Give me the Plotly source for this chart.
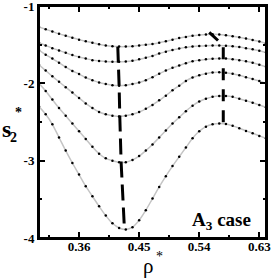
import plotly.graph_objects as go

# density values (rho*)
rho = [0.30, 0.31, 0.32, 0.33, 0.34, 0.35, 0.36, 0.37, 0.38, 0.39,
       0.40, 0.41, 0.42, 0.43, 0.44, 0.45, 0.46, 0.47, 0.48, 0.49,
       0.50, 0.51, 0.52, 0.53, 0.54, 0.55, 0.56, 0.57, 0.58, 0.59,
       0.60, 0.61, 0.62, 0.63, 0.64]

# s2* curves, top to bottom
s2_c1 = [-1.27, -1.30, -1.33, -1.36, -1.385, -1.41, -1.435, -1.455, -1.475, -1.495,
         -1.51, -1.52, -1.525, -1.525, -1.52, -1.51, -1.50, -1.49, -1.475, -1.455,
         -1.435, -1.415, -1.40, -1.385, -1.375, -1.368, -1.365, -1.368, -1.378, -1.39,
         -1.405, -1.42, -1.44, -1.46, -1.483]
s2_c2 = [-1.475, -1.51, -1.545, -1.575, -1.605, -1.635, -1.66, -1.68, -1.70, -1.71,
         -1.718, -1.722, -1.722, -1.718, -1.708, -1.69, -1.67, -1.645, -1.615, -1.59,
         -1.57, -1.55, -1.535, -1.525, -1.518, -1.513, -1.51, -1.51, -1.513, -1.52,
         -1.53, -1.545, -1.56, -1.58, -1.60]
s2_c3 = [-1.57, -1.63, -1.68, -1.735, -1.79, -1.84, -1.88, -1.925, -1.96, -1.99,
         -2.01, -2.025, -2.03, -2.025, -2.01, -1.99, -1.96, -1.92, -1.875, -1.835,
         -1.80, -1.77, -1.74, -1.715, -1.70, -1.69, -1.682, -1.678, -1.68, -1.69,
         -1.70, -1.715, -1.735, -1.76, -1.785]
s2_c4 = [-1.76, -1.835, -1.91, -1.98, -2.05, -2.12, -2.19, -2.26, -2.32, -2.37,
         -2.40, -2.42, -2.43, -2.42, -2.40, -2.37, -2.33, -2.28, -2.22, -2.16,
         -2.09, -2.03, -1.97, -1.925, -1.895, -1.875, -1.86, -1.858, -1.862, -1.875,
         -1.895, -1.92, -1.945, -1.97, -2.0]
s2_c5 = [-2.00, -2.10, -2.21, -2.32, -2.42, -2.52, -2.62, -2.72, -2.82, -2.91,
         -2.97, -3.00, -3.02, -3.02, -2.99, -2.94, -2.87, -2.79, -2.70, -2.61,
         -2.52, -2.44, -2.36, -2.29, -2.235, -2.20, -2.175, -2.165, -2.165, -2.175,
         -2.20, -2.225, -2.25, -2.28, -2.31]
s2_c6 = [-2.30, -2.40, -2.53, -2.70, -2.87, -3.03, -3.18, -3.33, -3.46, -3.59,
         -3.71, -3.81, -3.87, -3.89, -3.86, -3.77, -3.64, -3.49, -3.34, -3.20,
         -3.07, -2.95, -2.83, -2.71, -2.62, -2.56, -2.53, -2.52, -2.525, -2.55,
         -2.58, -2.615, -2.645, -2.68, -2.71]

# loci of minima and maxima (dashed lines)
min_rho = [0.418, 0.419, 0.420, 0.421, 0.423, 0.428]
min_s2 = [-1.525, -1.722, -2.03, -2.43, -3.02, -3.89]
max_rho = [0.555, 0.576, 0.576, 0.576, 0.576, 0.576]
max_s2 = [-1.34, -1.51, -1.678, -1.858, -2.165, -2.52]

# tick labels
x_tickvals = [0.36, 0.45, 0.54, 0.63]
x_ticktext = ["0.36", "0.45", "0.54", "0.63"]
y_tickvals = [-4, -3, -2, -1]
y_ticktext = ["-4", "-3", "-2", "-1"]

curves = [s2_c1, s2_c2, s2_c3, s2_c4, s2_c5, s2_c6]

fig = go.Figure()
for ys in curves:
    fig.add_trace(go.Scatter(
        x=rho, y=ys, mode="lines+markers",
        line=dict(color="#c4c4c4", width=1.5, shape="spline", smoothing=1.0),
        marker=dict(color="black", size=2.5),
        showlegend=False, hoverinfo="skip"))

fig.add_trace(go.Scatter(x=min_rho, y=min_s2, mode="lines",
                         line=dict(color="black", width=3, dash="16px,7px"),
                         showlegend=False))
fig.add_trace(go.Scatter(x=max_rho, y=max_s2, mode="lines",
                         line=dict(color="black", width=3, dash="12px,9px"),
                         showlegend=False))

tickfont = dict(family="Liberation Serif", size=13, color="black", weight="bold")

fig.update_xaxes(
    range=[0.30, 0.64], tickmode="array", tickvals=x_tickvals, ticktext=x_ticktext,
    ticks="inside", ticklen=6, tickwidth=1.5, tickcolor="black",
    showline=True, linecolor="black", linewidth=2, mirror="allticks",
    showgrid=False, zeroline=False, tickfont=tickfont, ticklabelstandoff=-5,
    automargin=False, ticklabeloverflow="allow",
    minor=dict(ticks="inside", ticklen=3, tickwidth=1.5, tickcolor="black",
               tick0=0.315, dtick=0.09, showgrid=False))
fig.update_yaxes(
    range=[-4, -1], tickmode="array", tickvals=y_tickvals, ticktext=y_ticktext,
    ticks="inside", ticklen=6, tickwidth=1.5, tickcolor="black",
    showline=True, linecolor="black", linewidth=2, mirror="allticks",
    showgrid=False, zeroline=False, tickfont=tickfont, automargin=False,
    ticklabeloverflow="allow",
    minor=dict(ticks="inside", ticklen=3, tickwidth=1.5, tickcolor="black",
               tick0=-3.5, dtick=1, showgrid=False))

# frame around the plot area
fig.add_shape(type="rect", xref="paper", yref="paper", x0=0, y0=0, x1=1, y1=1,
              line=dict(color="black", width=2), layer="above")

ann_font_b = dict(family="Liberation Serif", color="black", weight="bold")
annotations = [
    dict(text="s", x=-0.143, y=0.47, font=dict(size=24, **ann_font_b)),
    dict(text="2", x=-0.112, y=0.435, font=dict(size=14, **ann_font_b)),
    dict(text="*", x=-0.092, y=0.54, font=dict(size=14, **ann_font_b)),
    dict(text="ρ", x=0.482, y=-0.12, font=dict(size=21, family="Liberation Serif", color="black")),
    dict(text="*", x=0.531, y=-0.08, font=dict(size=14, family="Liberation Serif", color="black")),
    dict(text="A<sub>3</sub> case", x=0.665, y=0.075, xanchor="left",
         font=dict(size=19, **ann_font_b)),
]
for a in annotations:
    a.setdefault("xanchor", "center")
    a.update(xref="paper", yref="paper", showarrow=False, yanchor="middle")
    fig.add_annotation(**a)

fig.update_layout(
    width=273, height=279,
    margin=dict(l=39, r=7, t=6, b=41),
    plot_bgcolor="white", paper_bgcolor="white",
    showlegend=False,
)

fig.write_html("out.html", config={"displayModeBar": False},
               post_script="document.body.style.margin='0';document.body.style.overflow='hidden';")
